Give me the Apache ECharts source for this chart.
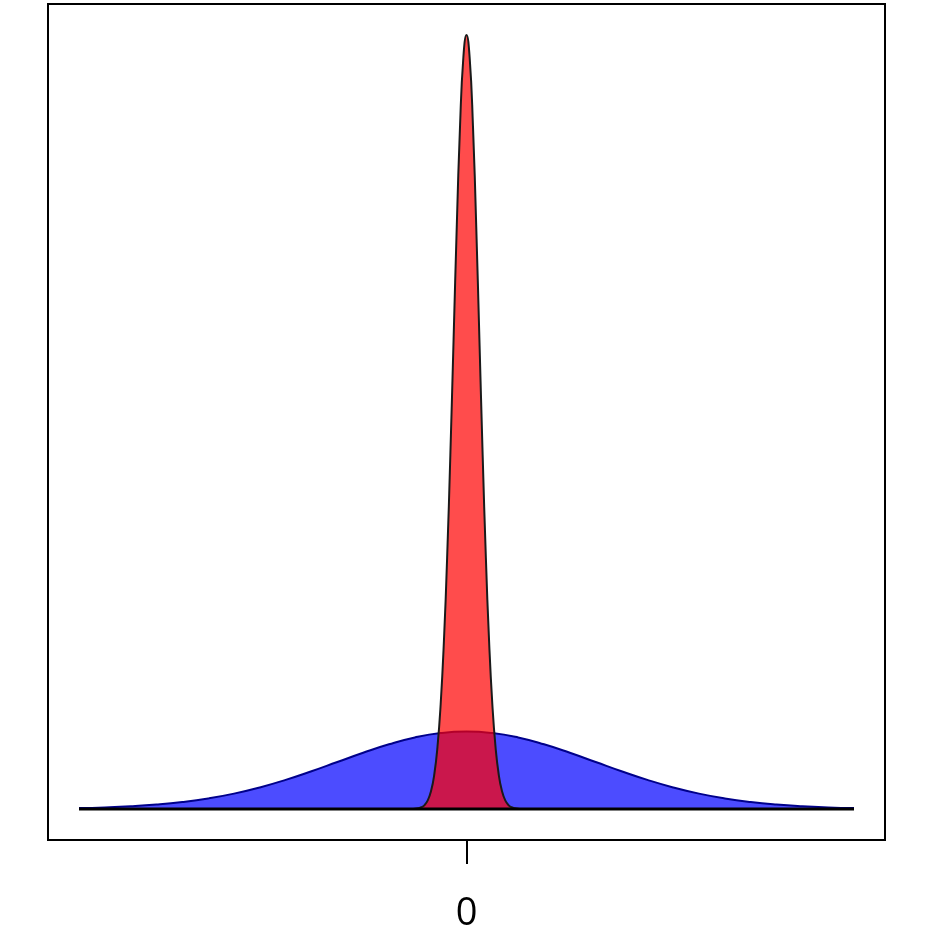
<!DOCTYPE html>
<html>
<head>
<meta charset="utf-8">
<script src="https://cdn.jsdelivr.net/npm/echarts@6/dist/echarts.min.js"></script>
<style>
  html, body { margin: 0; padding: 0; background: #fff; }
  #chart { width: 934px; height: 934px; }
</style>
</head>
<body>
<div id="chart"></div>
<script>
// wide curve (blue)
const blueX = [-3.0, -2.8, -2.6, -2.4, -2.2, -2.0, -1.8, -1.6, -1.4, -1.2, -1.0, -0.8, -0.6, -0.4, -0.2, 0,
  0.2, 0.4, 0.6, 0.8, 1.0, 1.2, 1.4, 1.6, 1.8, 2.0, 2.2, 2.4, 2.6, 2.8, 3.0]
const blueY = [0.0044, 0.0079, 0.0136, 0.0224, 0.0355, 0.0540, 0.0790, 0.1109, 0.1497, 0.1942, 0.2420, 0.2897, 0.3332, 0.3683, 0.3910, 0.3989,
  0.3910, 0.3683, 0.3332, 0.2897, 0.2420, 0.1942, 0.1497, 0.1109, 0.0790, 0.0540, 0.0355, 0.0224, 0.0136, 0.0079, 0.0044]

// narrow curve (red)
const redX = [-3.0, -0.425, -0.4, -0.375, -0.35, -0.325, -0.3, -0.275, -0.25, -0.225, -0.2, -0.175, -0.15, -0.125, -0.1, -0.075, -0.05, -0.025, 0,
  0.025, 0.05, 0.075, 0.1, 0.125, 0.15, 0.175, 0.2, 0.225, 0.25, 0.275, 0.3, 0.325, 0.35, 0.375, 0.4, 0.425, 3.0]
const redY = [0, 0, 0.001, 0.004, 0.009, 0.020, 0.044, 0.091, 0.175, 0.317, 0.540, 0.863, 1.295, 1.826, 2.420, 3.011, 3.521, 3.867, 3.989,
  3.867, 3.521, 3.011, 2.420, 1.826, 1.295, 0.863, 0.540, 0.317, 0.175, 0.091, 0.044, 0.020, 0.009, 0.004, 0.001, 0, 0]

const tickValues = [0]
const tickLabels = ['0']

const pairs = (xs, ys) => xs.map((x, i) => [x, ys[i]])

const chart = echarts.init(document.getElementById('chart'), null, { renderer: 'canvas' })

chart.setOption({
  animation: false,
  grid: {
    left: 48,
    right: 49,
    top: 4,
    bottom: 94,
    show: true,
    borderColor: '#000',
    borderWidth: 2,
    backgroundColor: 'transparent'
  },
  xAxis: {
    type: 'value',
    min: -3.24,
    max: 3.24,
    axisLine: { show: false, onZero: false },
    splitLine: { show: false },
    axisTick: {
      show: true,
      inside: false,
      length: 24,
      customValues: tickValues,
      lineStyle: { color: '#000', width: 2 }
    },
    axisLabel: {
      show: true,
      customValues: tickValues,
      formatter: v => tickLabels[tickValues.indexOf(v)] ?? '',
      margin: 55,
      fontSize: 38,
      fontFamily: 'Open Sans',
      color: '#000'
    }
  },
  yAxis: {
    type: 'value',
    min: -0.16,
    max: 4.149,
    show: false,
    splitLine: { show: false }
  },
  series: [
    {
      type: 'line',
      data: pairs(blueX, blueY),
      smooth: 0.5,
      symbol: 'none',
      lineStyle: { color: '#00008b', width: 2 },
      areaStyle: { color: 'rgba(0,0,255,0.7)', origin: 0, opacity: 1 },
      z: 2
    },
    {
      type: 'line',
      data: pairs(redX, redY),
      smooth: 0.5,
      symbol: 'none',
      lineStyle: { color: '#1a1a1a', width: 2 },
      areaStyle: { color: 'rgba(255,0,0,0.7)', origin: 0, opacity: 1 },
      z: 3
    },
    {
      // baseline of both polygons
      type: 'line',
      data: [[-3, 0], [3, 0]],
      symbol: 'none',
      lineStyle: { color: '#000', width: 3 },
      z: 4
    }
  ]
})
</script>
</body>
</html>
